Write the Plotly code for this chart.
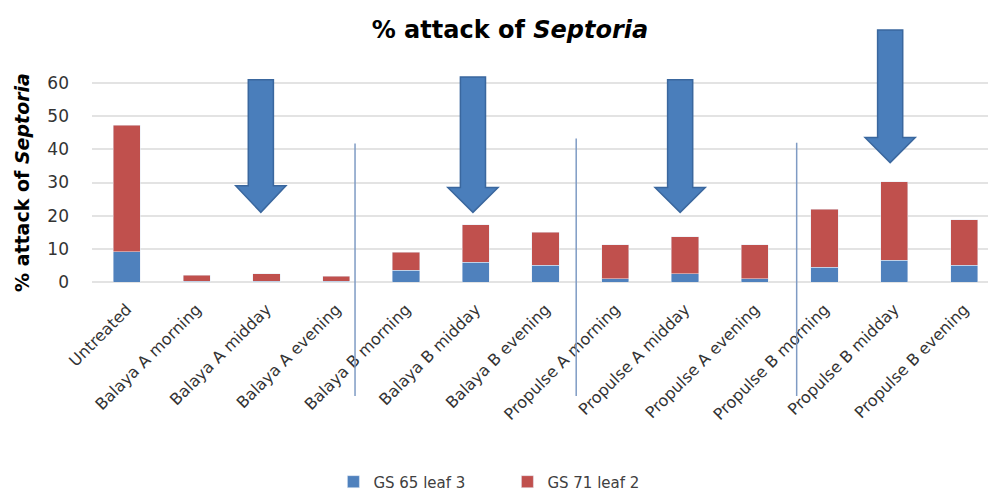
import plotly.graph_objects as go

categories = ["Untreated", "Balaya A morning", "Balaya A midday", "Balaya A evening",
              "Balaya B morning", "Balaya B midday", "Balaya B evening",
              "Propulse A morning", "Propulse A midday", "Propulse A evening",
              "Propulse B morning", "Propulse B midday", "Propulse B evening"]
gs65_leaf3 = [9.1, 0.3, 0.3, 0.3, 3.5, 6.0, 5.0, 1.0, 2.5, 1.0, 4.5, 6.5, 5.0]
totals = [47.3, 2.0, 2.5, 1.8, 9.0, 17.3, 15.0, 11.2, 13.6, 11.2, 22.0, 30.3, 18.8]
gs71_leaf2 = [round(t - b, 2) for t, b in zip(totals, gs65_leaf3)]
y_ticks = [0, 10, 20, 30, 40, 50, 60]

# decorative arrows: (center index, top, head start, tip) in data units
arrows = [(1.92, 61.0, 29.0, 21.0), (4.96, 61.8, 28.5, 21.0),
          (7.93, 61.0, 28.5, 21.0), (10.94, 76.0, 43.6, 36.0)]
# separator lines: (x index, top value)
separators = [(3.27, 41.8), (6.44, 43.3), (9.6, 42.0)]

idx = list(range(len(categories)))
FONT = "DejaVu Sans"
Y_TOP = 76.9

fig = go.Figure()
fig.add_trace(go.Bar(x=idx, y=gs65_leaf3, name="GS 65 leaf 3", marker_color="#4F81BD"))
fig.add_trace(go.Bar(x=idx, y=gs71_leaf2, name="GS 71 leaf 2", marker_color="#C0504D"))

shapes = []
sw, hw = 0.18, 0.36
for cx, top, head, tip in arrows:
    path = (f"M {cx-sw} {top} L {cx+sw} {top} L {cx+sw} {head} L {cx+hw} {head} "
            f"L {cx} {tip} L {cx-hw} {head} L {cx-sw} {head} Z")
    shapes.append(dict(type="path", path=path, xref="x", yref="y",
                       fillcolor="#4A7EBB", line=dict(color="#3A679E", width=1.5), layer="above"))
for sx, top in separators:
    shapes.append(dict(type="line", xref="x", yref="paper", x0=sx, x1=sx,
                       y0=top / Y_TOP, y1=-0.447,
                       line=dict(color="#7F9BC4", width=1.5)))

fig.update_layout(
    width=996, height=490,
    margin=dict(l=84, r=5, t=19, b=216, autoexpand=False),
    paper_bgcolor="white", plot_bgcolor="white",
    barmode="stack", bargap=0.61,
    font=dict(family=FONT, color="#404040"),
    showlegend=True,
    title=dict(text="<b>% attack of <i>Septoria</i></b>", x=0.504, xanchor="center",
               y=0.955, yanchor="middle", yref="container",
               font=dict(size=24, color="black", family=FONT)),
    legend=dict(orientation="h", x=0.458, xanchor="center", y=-0.784, yanchor="middle",
                font=dict(size=15, color="#404040"), traceorder="normal",
                entrywidth=129, itemwidth=30),
    shapes=shapes,
    annotations=[
        dict(text="<b>% attack of <i>Septoria</i></b>", xref="paper", yref="paper",
             x=-0.0772, y=0.392, xanchor="center", yanchor="middle", textangle=-90,
             showarrow=False, font=dict(size=19, color="black", family=FONT)),
    ],
    xaxis=dict(tickvals=idx, ticktext=categories, tickangle=-45, range=[-0.5, 12.5],
               showgrid=False, zeroline=False, showline=False, ticks="", automargin=False,
               ticklabelstandoff=14, tickfont=dict(size=16, color="#333333")),
    yaxis=dict(range=[0, Y_TOP], tickvals=y_ticks, showgrid=True, gridcolor="#E3E3E3",
               gridwidth=1.5, zeroline=True, zerolinecolor="#E3E3E3", zerolinewidth=1.5,
               showline=False, ticks="", automargin=False, ticklabelstandoff=22,
               tickfont=dict(size=17, color="#333333")),
)

fig.write_html("out.html")
